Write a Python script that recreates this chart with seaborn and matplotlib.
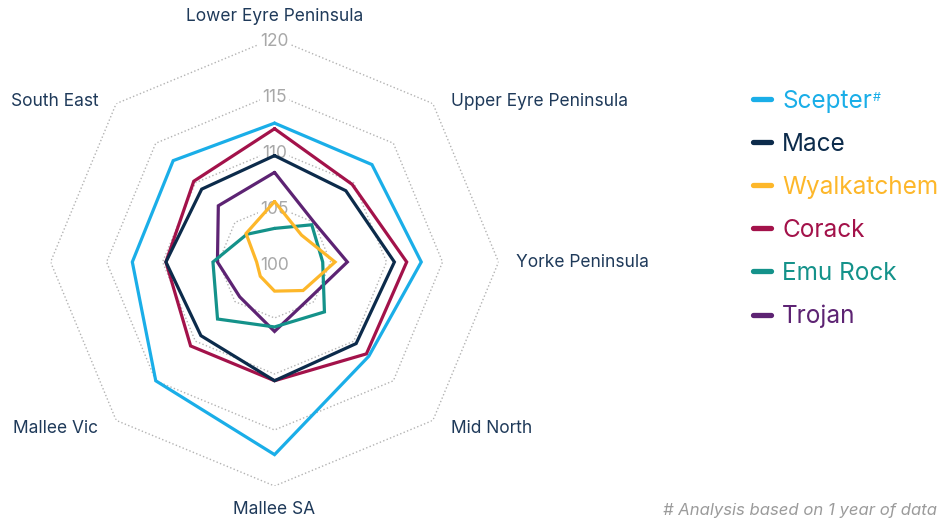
import numpy as np
import pandas as pd
import matplotlib.pyplot as plt
from matplotlib.lines import Line2D
import seaborn as sns

# Valores (índice relativo, 100 = centro)
regioes = ['Lower Eyre Peninsula', 'Upper Eyre Peninsula', 'Yorke Peninsula', 'Mid North',
           'Mallee SA', 'Mallee Vic', '', 'South East']
variedades = ['Scepter', 'Mace', 'Wyalkatchem', 'Corack', 'Emu Rock', 'Trojan']
scepter = [112.4, 112.3, 113.1, 111.9, 117.2, 115.0, 112.7, 112.8]
mace = [109.5, 109.0, 110.7, 110.3, 110.6, 109.3, 109.7, 109.2]
wyalkatchem = [105.4, 103.4, 105.4, 103.6, 102.6, 101.8, 101.6, 103.6]
corack = [111.9, 109.8, 111.8, 111.6, 110.6, 110.6, 109.7, 110.2]
emu_rock = [103.0, 104.7, 104.3, 106.3, 105.8, 107.2, 105.5, 103.5]
trojan = [108.0, 105.0, 106.5, 104.5, 106.2, 104.4, 105.1, 107.1]
ticks = [100, 105, 110, 115, 120]

cores = ['#1aaee8', '#0c2b4b', '#fdb72a', '#a3124a', '#14928a', '#5d2373']
valores = [scepter, mace, wyalkatchem, corack, emu_rock, trojan]

sns.set_style('white')
plt.rcParams['font.family'] = ['Inter', 'DejaVu Sans']

# Ângulos (fecha o polígono repetindo o primeiro ponto)
n = len(regioes)
angulos = list(np.linspace(0, 2 * np.pi, n, endpoint=False)) + [2 * np.pi]

linhas = []
for nome, v in zip(variedades, valores):
    for a, val in zip(angulos, v + [v[0]]):
        linhas.append({'Variedade': nome, 'angulo': a, 'valor': val})
df = pd.DataFrame(linhas)

fig = plt.figure(figsize=(9.5, 5.25), dpi=100)
ax = fig.add_axes([0.0532, 0.0743, 0.4716, 0.8533], projection='polar')
ax.set_theta_zero_location('N')
ax.set_theta_direction(-1)
ax.set_axis_off()

# Grade octogonal pontilhada
for t in ticks[1:]:
    ax.plot(angulos, [t] * len(angulos), ls=':', color='#b3b3b3', lw=1, zorder=1)

# Rótulos da escala
for t in ticks:
    ax.annotate(str(t), xy=(0, t), xytext=(0, -3), textcoords='offset pixels',
                ha='center', va='center', color='#a8a8a8', fontsize=12.5,
                bbox=dict(fc='white', ec='none', pad=1.5), zorder=2)

# Séries (a primeira fica por cima)
for i in reversed(range(len(variedades))):
    sub = df[df['Variedade'] == variedades[i]]
    sns.lineplot(data=sub, x='angulo', y='valor', sort=False, estimator=None,
                 color=cores[i], lw=2.3, ax=ax, zorder=10 - i, legend=False,
                 solid_joinstyle='miter')

ax.set_ylim(100, 120)
ax.set_axis_off()

# Rótulos das regiões
offsets = [(0, 22, 'center'), (18, 2, 'left'), (17, 0, 'left'), (18, -8, 'left'),
           (0, -24, 'center'), (-18, -8, 'right'), (-18, 0, 'right'), (-18, 2, 'right')]
for a, nome, (dx, dy, ha) in zip(angulos, regioes, offsets):
    if nome:
        ax.annotate(nome, xy=(a, 120), xytext=(dx, dy), textcoords='offset pixels',
                    ha=ha, va='center', fontsize=12.5, color='#1f3a5a', annotation_clip=False)

# Legenda
handles = [Line2D([0], [0], color=c, lw=3.8, solid_capstyle='round') for c in cores]
leg = fig.legend(handles, variedades, loc='upper left', bbox_to_anchor=(0.7695, 0.871),
                 frameon=False, fontsize=17.5, handlelength=0.75, handletextpad=0.45,
                 labelspacing=0.825, labelcolor=cores, borderpad=0.4)

# "#" sobrescrito depois de Scepter
fig.canvas.draw()
bb = leg.get_texts()[0].get_window_extent()
fig.text(bb.x1 + 1, bb.y1 - 2, '#', ha='left', va='top', fontsize=9, color=cores[0],
         transform=None)

fig.text(0.986, 0.027, '# Analysis based on 1 year of data', ha='right', va='center',
         style='italic', color='#9b9b9b', fontsize=12)

plt.savefig('out.png', dpi=100)
